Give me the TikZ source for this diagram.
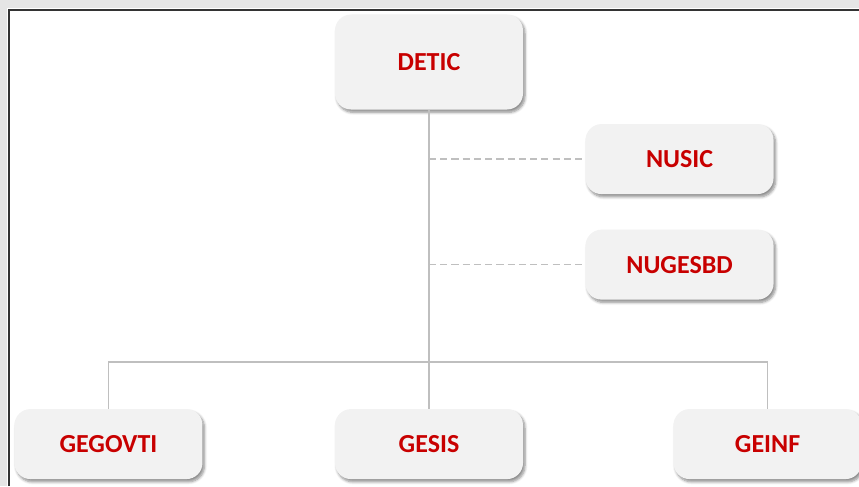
\documentclass[tikz,border=0pt]{standalone}
\usepackage{fontspec}
\setmainfont{Carlito}
\usepackage{xcolor}
\usepackage{tikz}
\usetikzlibrary{positioning, shadows.blur}

\definecolor{boxgray}{HTML}{F2F2F2}
\definecolor{linegray}{HTML}{BFBFBF}
\definecolor{textred}{HTML}{C80000}

\begin{document}
\begin{tikzpicture}[
    unit/.style={rectangle, rounded corners=0.4cm, fill=boxgray, minimum width=4.7cm, minimum height=1.75cm,
        align=center, text=textred, font=\fontsize{18.5}{20}\selectfont\bfseries,
        blur shadow={shadow xshift=0.05cm, shadow yshift=-0.07cm, shadow blur steps=6, shadow opacity=45}},
    line/.style={draw=linegray, line width=1pt},
    linkline/.style={draw=linegray, line width=1pt, dash pattern=on 5pt off 3pt}
]

% Frame
\useasboundingbox (-10.725,-10.6) rectangle (10.75,1.55);
\fill[black!10] (-10.725,1.55) rectangle (10.75,1.35);
\fill[black!10] (-10.725,1.55) rectangle (-10.55,-10.6);
\draw[black!80, line width=0.9pt] (-10.5,-10.6) -- (-10.5,1.3) -- (10.75,1.3);

% Nodes
\node[unit, minimum height=2.375cm] (detic) at (0,0) {DETIC};
\node[unit, below right=0.35cm and 1.55cm of detic] (nusic) {NUSIC};
\node[unit, below=0.875cm of nusic] (nugesbd) {NUGESBD};
\node[unit, below=7.475cm of detic] (gesis) {GESIS};
\node[unit, left=3.3cm of gesis] (gegovti) {GEGOVTI};
\node[unit, right=3.75cm of gesis] (geinf) {GEINF};

% Connections
\draw[line] (detic.south) -- (gesis.north);
\draw[line] (gegovti.north) |- (detic.south |- 0,-7.5) -| (geinf.north);
\draw[linkline] (detic.south |- nusic.west) -- (nusic.west);
\draw[linkline] (detic.south |- nugesbd.west) -- (nugesbd.west);

\end{tikzpicture}
\end{document}
